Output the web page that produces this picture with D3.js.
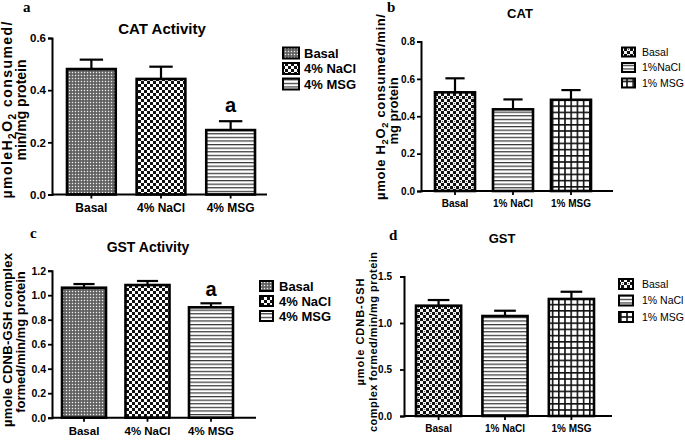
<!DOCTYPE html>
<html><head><meta charset="utf-8">
<script src="https://cdn.jsdelivr.net/npm/d3@7"></script>
<style>
body{margin:0;background:#fff;}
svg{display:block;font-family:"Liberation Sans",Arial,sans-serif;}
</style></head>
<body>
<svg id="chart" width="685" height="440"></svg>
<script>
// ---------- DATA ----------
const catA = ["Basal", "4% NaCl", "4% MSG"];
const valA = [0.481, 0.443, 0.247];
const errA = [0.036, 0.047, 0.034];
const sigA = ["", "", "a"];
const ticksA = [0, 0.2, 0.4, 0.6];
const legendA = ["Basal", "4% NaCl", "4% MSG"];

const catB = ["Basal", "1% NaCl", "1% MSG"];
const valB = [0.528, 0.437, 0.488];
const errB = [0.075, 0.053, 0.052];
const ticksB = [0, 0.2, 0.4, 0.6, 0.8];
const legendB = ["Basal", "1%NaCl", "1% MSG"];

const catC = ["Basal", "4% NaCl", "4% MSG"];
const valC = [1.061, 1.083, 0.901];
const errC = [0.030, 0.033, 0.033];
const sigC = ["", "", "a"];
const ticksC = [0, 0.2, 0.4, 0.6, 0.8, 1.0, 1.2];
const legendC = ["Basal", "4% NaCl", "4% MSG"];

const catD = ["Basal", "1% NaCl", "1% MSG"];
const valD = [1.186, 1.075, 1.258];
const errD = [0.061, 0.057, 0.078];
const ticksD = [0, 0.5, 1.0, 1.5];
const legendD = ["Basal", "1% NaCl", "1% MSG"];

// ---------- PATTERNS ----------
const svg = d3.select("#chart");
const defs = svg.append("defs");
function pat(id, w, h, build, bg) {
  const p = defs.append("pattern").attr("id", id).attr("patternUnits", "userSpaceOnUse")
    .attr("width", w).attr("height", h);
  p.append("rect").attr("width", w).attr("height", h).attr("fill", bg);
  build(p);
}
pat("pGrey", 3, 3, p => {
  p.append("rect").attr("x", 0).attr("y", 0).attr("width", 1).attr("height", 1).attr("fill", "#eee");
  p.append("rect").attr("x", 1.5).attr("y", 1.5).attr("width", 1).attr("height", 1).attr("fill", "#222");
}, "#777");
pat("pCheck", 6, 6, p => {
  p.append("rect").attr("x", 0).attr("y", 0).attr("width", 3).attr("height", 3).attr("fill", "#111");
  p.append("rect").attr("x", 3).attr("y", 3).attr("width", 3).attr("height", 3).attr("fill", "#111");
}, "#fff");
pat("pCheck2", 6, 6, p => {
  p.append("rect").attr("x", 0).attr("y", 0).attr("width", 3).attr("height", 3).attr("fill", "#111");
  p.append("rect").attr("x", 3).attr("y", 3).attr("width", 3).attr("height", 3).attr("fill", "#111");
  p.append("rect").attr("x", 4).attr("y", 1).attr("width", 1).attr("height", 1).attr("fill", "#555");
}, "#f4f4f4");
pat("pLines", 6, 3.6, p => {
  p.append("rect").attr("x", 0).attr("y", 0).attr("width", 6).attr("height", 1.2).attr("fill", "#333");
}, "#fff");
pat("pGrid", 6.2, 6.2, p => {
  p.append("rect").attr("x", 0).attr("y", 0).attr("width", 6.2).attr("height", 1.6).attr("fill", "#111");
  p.append("rect").attr("x", 0).attr("y", 0).attr("width", 1.6).attr("height", 6.2).attr("fill", "#111");
}, "#fff");

// ---------- DRAW ----------
function panel(o) {
  const g = svg.append("g");
  const x = d3.scaleBand().domain(o.cats).range(o.barRange).paddingInner(o.pad).paddingOuter(0);
  const y = d3.scaleLinear().domain([0, o.ticks[o.ticks.length - 1]]).range([o.y0, o.yTop]);

  g.selectAll(".bar").data(o.vals).join("rect")
    .attr("x", (d, i) => x(o.cats[i]))
    .attr("y", d => y(d))
    .attr("width", x.bandwidth())
    .attr("height", d => o.y0 - y(d))
    .attr("fill", (d, i) => `url(#${o.fills[i]})`)
    .attr("stroke", "#000").attr("stroke-width", 2.6);

  const eb = g.selectAll(".err").data(o.vals).join("g");
  eb.append("line")
    .attr("x1", (d, i) => x(o.cats[i]) + x.bandwidth() / 2)
    .attr("x2", (d, i) => x(o.cats[i]) + x.bandwidth() / 2)
    .attr("y1", d => y(d)).attr("y2", (d, i) => y(d + o.errs[i]))
    .attr("stroke", "#000").attr("stroke-width", 2.2);
  eb.append("line")
    .attr("x1", (d, i) => x(o.cats[i]) + x.bandwidth() / 2 - x.bandwidth() * 0.24)
    .attr("x2", (d, i) => x(o.cats[i]) + x.bandwidth() / 2 + x.bandwidth() * 0.24)
    .attr("y1", (d, i) => y(d + o.errs[i])).attr("y2", (d, i) => y(d + o.errs[i]))
    .attr("stroke", "#000").attr("stroke-width", 2.2);

  if (o.sig) {
    g.selectAll(".sig").data(o.vals).join("text")
      .attr("x", (d, i) => x(o.cats[i]) + x.bandwidth() / 2)
      .attr("y", (d, i) => y(d + o.errs[i]) - o.sigGap)
      .attr("text-anchor", "middle").attr("font-weight", "bold")
      .attr("font-size", o.sigSize)
      .text((d, i) => o.sig[i]);
  }

  const ya = g.append("g").attr("transform", `translate(${o.axisX},0)`)
    .call(d3.axisLeft(y).tickValues(o.ticks).tickFormat(d3.format(o.fmt)).tickSizeOuter(0).tickSize(4).tickPadding(o.yPad));
  ya.select(".domain").attr("stroke-width", 2);
  ya.selectAll(".tick line").attr("stroke-width", 1.8);
  ya.selectAll("text").attr("font-size", o.tickSize).attr("font-weight", "bold").attr("fill", "#000");

  const xa = g.append("g").attr("transform", `translate(0,${o.y0})`)
    .call(d3.axisBottom(x).tickSize(4).tickSizeOuter(0).tickPadding(o.catPad));
  xa.select(".domain").attr("d", `M${o.axisX},0H${o.axisEnd}`).attr("stroke-width", 2);
  xa.selectAll(".tick line").attr("stroke-width", 1.8);
  xa.selectAll("text").attr("font-size", o.catSize).attr("font-weight", "bold").attr("fill", "#000");

  g.append("text").attr("x", o.titleX).attr("y", o.titleY).attr("text-anchor", "middle")
    .attr("font-weight", "bold").attr("font-size", o.titleSize).text(o.title);
  g.append("text").attr("x", o.letterX).attr("y", o.letterY)
    .attr("font-family", "'Liberation Serif','DejaVu Serif',serif").attr("font-weight", "bold")
    .attr("font-size", 15).text(o.letter);

  o.ylab.forEach(l => {
    const t = g.append("text")
      .attr("transform", `translate(${l.x},${l.cy}) rotate(-90)`)
      .attr("text-anchor", "middle").attr("font-weight", "bold").attr("font-size", l.size);
    if (l.len) t.attr("textLength", l.len).attr("lengthAdjust", "spacing");
    l.parts.forEach(p => {
      const s = t.append("tspan").text(p[0]);
      if (p[1] === "sub") s.attr("font-size", l.size * 0.72).attr("dy", l.size * 0.25);
      if (p[1] === "up") s.attr("dy", -l.size * 0.25);
    });
  });

  const lg = g.append("g");
  o.legend.forEach((name, i) => {
    const yy = o.legY + i * o.legStep;
    lg.append("rect").attr("x", o.legX).attr("y", yy - o.swH / 2)
      .attr("width", o.swW).attr("height", o.swH)
      .attr("fill", `url(#${o.fills[i]})`).attr("stroke", "#000").attr("stroke-width", 2);
    lg.append("text").attr("x", o.legTextX).attr("y", yy).attr("dy", "0.36em")
      .attr("font-size", o.legSize).attr("font-weight", o.legBold ? "bold" : "normal")
      .text(name);
  });
}

panel({
  cats: catA, vals: valA, errs: errA, sig: sigA, ticks: ticksA, legend: legendA,
  fills: ["pGrey", "pCheck", "pLines"],
  barRange: [67, 255], pad: 0.3, y0: 194.5, yTop: 38, axisX: 52, axisEnd: 267,
  fmt: ".1f", tickSize: 11.5, catSize: 12, catPad: 5, yPad: 2,
  sigGap: 9, sigSize: 20,
  title: "CAT Activity", titleX: 162, titleY: 34, titleSize: 15,
  letter: "a", letterX: 23, letterY: 12,
  ylab: [
    { x: 12, cy: 110, size: 14, len: 177, parts: [["µmoleH"], ["2", "sub"], ["O", "up"], ["2", "sub"], [" consumed/", "up"]] },
    { x: 26, cy: 110, size: 14, parts: [["min/mg protein"]] }
  ],
  legX: 283, legTextX: 304, legY: 53, legStep: 15.5, swW: 16, swH: 11, legSize: 13, legBold: true
});

panel({
  cats: catB, vals: valB, errs: errB, ticks: ticksB, legend: legendB,
  fills: ["pCheck2", "pLines", "pGrid"],
  barRange: [435, 591], pad: 0.31, y0: 191, yTop: 41.5, axisX: 421, axisEnd: 613,
  fmt: ".1f", tickSize: 10, catSize: 10, catPad: 5, yPad: 2,
  title: "CAT", titleX: 520, titleY: 18, titleSize: 13,
  letter: "b", letterX: 387, letterY: 12,
  ylab: [
    { x: 385, cy: 107, size: 13, len: 186, parts: [["µmole H"], ["2", "sub"], ["O", "up"], ["2", "sub"], [" consumed/min/", "up"]] },
    { x: 398, cy: 111, size: 13, parts: [["mg protein"]] }
  ],
  legX: 622, legTextX: 642, legY: 52, legStep: 15.5, swW: 13, swH: 9, legSize: 10.5, legBold: false
});

panel({
  cats: catC, vals: valC, errs: errC, sig: sigC, ticks: ticksC, legend: legendC,
  fills: ["pGrey", "pCheck", "pLines"],
  barRange: [62, 233], pad: 0.307, y0: 417.7, yTop: 270.7, axisX: 52, axisEnd: 256,
  fmt: ".1f", tickSize: 10.5, catSize: 11.5, catPad: 5, yPad: 2,
  sigGap: 7, sigSize: 20,
  title: "GST Activity", titleX: 148, titleY: 252, titleSize: 14,
  letter: "c", letterX: 30, letterY: 238,
  ylab: [
    { x: 12, cy: 340, size: 13, len: 174, parts: [["µmole CDNB-GSH complex"]] },
    { x: 25, cy: 342, size: 13, parts: [["formed/min/mg protein"]] }
  ],
  legX: 260, legTextX: 279, legY: 286, legStep: 15, swW: 13, swH: 10, legSize: 13, legBold: true
});

panel({
  cats: catD, vals: valD, errs: errD, ticks: ticksD, legend: legendD,
  fills: ["pCheck2", "pLines", "pGrid"],
  barRange: [416, 594], pad: 0.32, y0: 416, yTop: 276.5, axisX: 404, axisEnd: 612,
  fmt: ".1f", tickSize: 10, catSize: 10, catPad: 5, yPad: 8,
  title: "GST", titleX: 502, titleY: 243, titleSize: 13,
  letter: "d", letterX: 389, letterY: 240,
  ylab: [
    { x: 364, cy: 332, size: 11, len: 107, parts: [["µmole CDNB-GSH"]] },
    { x: 377, cy: 342, size: 11, len: 180, parts: [["complex formed/min/mg protein"]] }
  ],
  legX: 619, legTextX: 642, legY: 284, legStep: 16.5, swW: 14, swH: 10, legSize: 10.5, legBold: false
});
</script>
</body></html>
